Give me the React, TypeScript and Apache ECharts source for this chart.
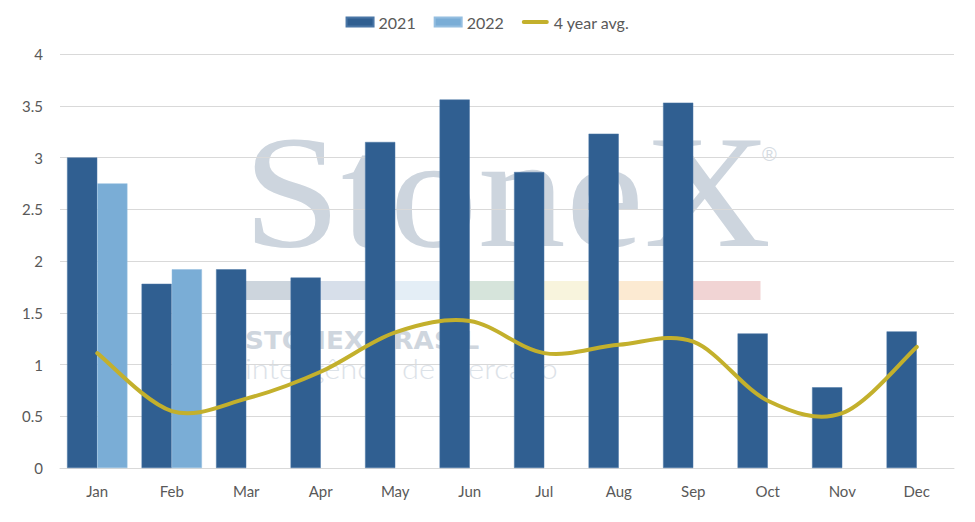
import React, { useEffect, useRef } from "react";
import * as echarts from "echarts";

const months = ["Jan", "Feb", "Mar", "Apr", "May", "Jun", "Jul", "Aug", "Sep", "Oct", "Nov", "Dec"];
const values2021 = [3.0, 1.78, 1.92, 1.84, 3.15, 3.56, 2.86, 3.23, 3.53, 1.3, 0.78, 1.32];
const values2022: (number | null)[] = [2.75, 1.92, null, null, null, null, null, null, null, null, null, null];
const avg4y = [1.11, 0.55, 0.67, 0.93, 1.31, 1.42, 1.11, 1.19, 1.22, 0.65, 0.53, 1.17];
const yTicks = [0, 0.5, 1, 1.5, 2, 2.5, 3, 3.5, 4];

const stripColors = ["#CDD5DD", "#D7DFEA", "#E4EEF6", "#D6E4DB", "#F8F4DD", "#FCEAD2", "#F1D4D4"];

const LINE_COLOR = "#C3B02C";

function smoothPath(pts: number[][]): string {
  // Catmull-Rom spline converted to cubic Bezier segments
  let d = `M${pts[0][0]},${pts[0][1]}`;
  for (let i = 0; i < pts.length - 1; i++) {
    const p0 = pts[i - 1] || pts[i];
    const p1 = pts[i];
    const p2 = pts[i + 1];
    const p3 = pts[i + 2] || p2;
    const c1x = p1[0] + (p2[0] - p0[0]) / 6;
    const c1y = p1[1] + (p2[1] - p0[1]) / 6;
    const c2x = p2[0] - (p3[0] - p1[0]) / 6;
    const c2y = p2[1] - (p3[1] - p1[1]) / 6;
    d += ` C${c1x},${c1y} ${c2x},${c2y} ${p2[0]},${p2[1]}`;
  }
  return d;
}

export default function App() {
  const ref = useRef<HTMLDivElement>(null);
  useEffect(() => {
    if (!ref.current) return;
    const chart = echarts.init(ref.current, undefined, { renderer: "svg" });
    const font = "Lato, 'Noto Sans', sans-serif";
    const strip = stripColors.map((c, i) => ({
      type: "rect",
      shape: { x: 246 + i * 73.5, y: 281, width: 73.5, height: 19 },
      style: { fill: c },
      silent: true,
      z: 0,
    }));
    chart.setOption({
      animation: false,
      backgroundColor: "#ffffff",
      textStyle: { fontFamily: font },
      legend: {
        top: 9,
        left: "center",
        itemWidth: 27,
        itemHeight: 9,
        itemGap: 18,
        textStyle: { fontSize: 16, color: "#595959", fontFamily: font },
        data: [
          { name: "2021", icon: "rect" },
          { name: "2022", icon: "rect" },
          {
            name: "4 year avg.",
            icon: "path://M2,0H26A2,2 0 0 1 26,4H2A2,2 0 0 1 2,0Z",
            itemStyle: { color: LINE_COLOR },
          },
        ],
      },
      grid: { left: 60, right: 21, top: 54, bottom: 54, containLabel: false },
      graphic: [
        {
          type: "text",
          x: 243,
          y: 112,
          scaleX: 1.1,
          silent: true,
          z: 0,
          style: {
            text: "StoneX",
            font: "160px 'Liberation Serif', serif",
            fill: "#CDD5DE",
          },
        },
        {
          type: "text",
          x: 762,
          y: 144,
          silent: true,
          z: 0,
          style: { text: "®", font: "20px 'Liberation Sans', sans-serif", fill: "#D5DBE2" },
        },
        ...strip,
        {
          type: "text",
          x: 245,
          y: 328,
          scaleX: 1.05,
          silent: true,
          z: 0,
          style: {
            text: "STONEX BRASIL",
            font: "bold 25px 'DejaVu Sans', sans-serif",
            fill: "#CFD6DE",
          },
        },
        {
          type: "text",
          x: 245,
          y: 354,
          scaleX: 1.1,
          silent: true,
          z: 0,
          style: {
            text: "inteligência de mercado",
            font: "300 28px Lato, sans-serif",
            fill: "#DCE2E8",
          },
        },
      ],
      xAxis: {
        type: "category",
        data: months,
        axisLine: { show: true, lineStyle: { color: "#D9D9D9", width: 1 } },
        axisTick: { show: false },
        axisLabel: { color: "#595959", fontSize: 15, margin: 15, fontFamily: font },
      },
      yAxis: {
        type: "value",
        min: 0,
        max: 4,
        interval: 0.5,
        axisLine: { show: false },
        axisTick: { show: false },
        axisLabel: {
          color: "#595959",
          fontSize: 15,
          margin: 17,
          fontFamily: font,
          formatter: (v: number) => (yTicks.includes(v) ? String(v) : ""),
        },
        splitLine: { lineStyle: { color: "#D9D9D9", width: 1 } },
      },
      series: [
        {
          name: "2021",
          type: "bar",
          data: values2021,
          barGap: "0%",
          barCategoryGap: "19%",
          itemStyle: { color: "#305F91", borderColor: "#4A76A6", borderWidth: 0.5 },
          z: 2,
        },
        {
          name: "2022",
          type: "bar",
          data: values2022,
          itemStyle: { color: "#7AADD6", borderColor: "#94BEE0", borderWidth: 0.5 },
          z: 2,
        },
        {
          name: "4 year avg.",
          type: "custom",
          coordinateSystem: "cartesian2d",
          data: avg4y.map((v, i) => [months[i], v]),
          encode: { x: 0, y: 1 },
          itemStyle: { color: LINE_COLOR },
          z: 3,
          silent: true,
          renderItem: (params: any, api: any) => {
            if (params.dataIndex !== 0) return null;
            const pts = avg4y.map((v, i) => api.coord([i, v]));
            return {
              type: "path",
              shape: { pathData: smoothPath(pts) },
              style: {
                fill: "none",
                stroke: LINE_COLOR,
                lineWidth: 4,
                lineCap: "round",
                lineJoin: "round",
              },
            };
          },
        },
      ],
    });
    return () => chart.dispose();
  }, []);
  return <div ref={ref} style={{ position: "fixed", left: 0, top: 0, width: 975, height: 522 }} />;
}
